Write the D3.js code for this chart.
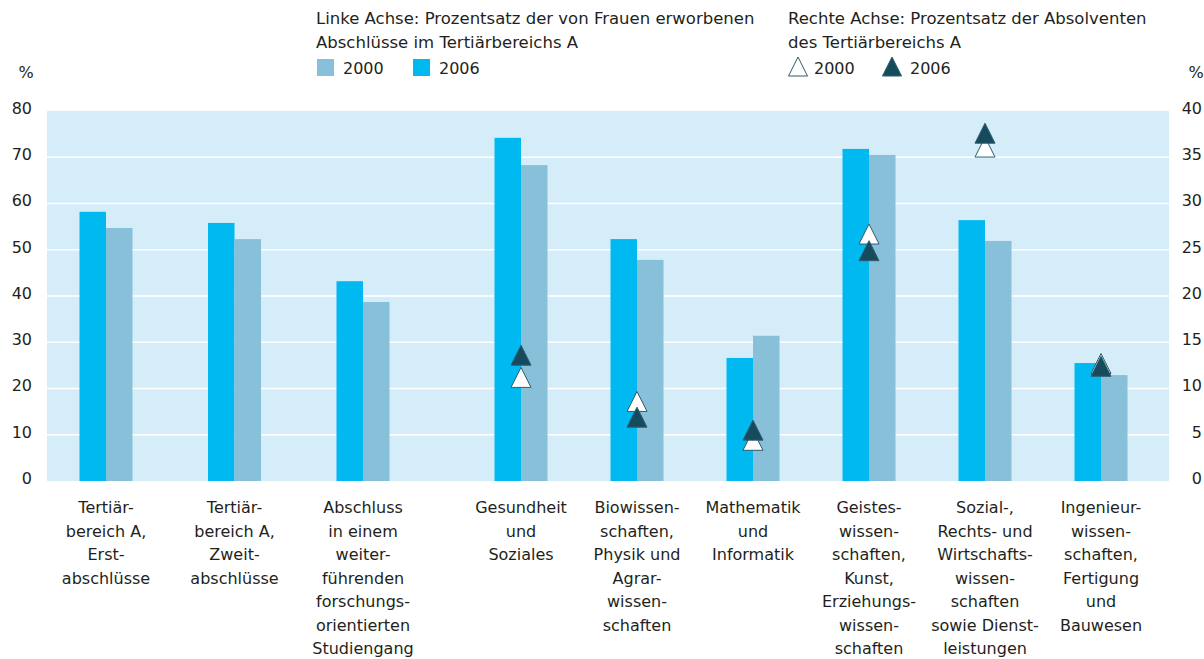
<!DOCTYPE html>
<html lang="de">
<head>
<meta charset="utf-8">
<title>Frauenanteil an Abschlüssen im Tertiärbereich A</title>
<script src="https://cdnjs.cloudflare.com/ajax/libs/d3/7.8.5/d3.min.js"></script>
<style>
  body { margin: 0; background: #fff; }
  svg text { font-family: "DejaVu Sans", sans-serif; font-size: 16px; fill: #231f20; }
  svg text.ttl { font-size: 16.5px; }
</style>
</head>
<body>
<svg width="1204" height="659"></svg>
<script>
// categories (label lines)
var categories = [
  ["Tertiär-", "bereich A,", "Erst-", "abschlüsse"],
  ["Tertiär-", "bereich A,", "Zweit-", "abschlüsse"],
  ["Abschluss", "in einem", "weiter-", "führenden", "forschungs-", "orientierten", "Studiengang"],
  ["Gesundheit", "und", "Soziales"],
  ["Biowissen-", "schaften,", "Physik und", "Agrar-", "wissen-", "schaften"],
  ["Mathematik", "und", "Informatik"],
  ["Geistes-", "wissen-", "schaften,", "Kunst,", "Erziehungs-", "wissen-", "schaften"],
  ["Sozial-,", "Rechts- und", "Wirtschafts-", "wissen-", "schaften", "sowie Dienst-", "leistungen"],
  ["Ingenieur-", "wissen-", "schaften,", "Fertigung", "und", "Bauwesen"]
];

// left axis: share of degrees earned by women (%)
var women2006 = [58.2, 55.8, 43.2, 74.2, 52.3, 26.6, 71.8, 56.4, 25.5];
var women2000 = [54.7, 52.3, 38.7, 68.3, 47.8, 31.4, 70.5, 51.9, 22.9];

// right axis: share of tertiary-type A graduates (%)
var grads2000 = [null, null, null, 11.2, 8.6, 4.4, 26.7, 36.1, 12.7];
var grads2006 = [null, null, null, 13.6, 6.9, 5.5, 24.9, 37.6, 12.4];

var leftTicks = [0, 10, 20, 30, 40, 50, 60, 70, 80];
var rightTicks = [0, 5, 10, 15, 20, 25, 30, 35, 40];

var colCyan = "#00b9f1", colLight = "#88bfd9", colBg = "#d5ecf9",
    colDark = "#164b5d", colEdge = "#2e5c6d";

var svg = d3.select("svg");
var plot = {left: 47, right: 1169, top: 111, bottom: 481};

// groups 1-3 sit a bit wider apart than 4-9
var x = d3.scaleLinear().domain([0, 2, 3, 8]).range([106, 363, 521, 1101]);
var barW = 26.5;
var yL = d3.scaleLinear().domain([0, 80]).range([plot.bottom, plot.top]);
var yR = d3.scaleLinear().domain([0, 40]).range([plot.bottom, plot.top]);

svg.append("rect")
  .attr("x", plot.left).attr("y", plot.top)
  .attr("width", plot.right - plot.left).attr("height", plot.bottom - plot.top)
  .attr("fill", colBg);

svg.append("g").selectAll("line")
  .data(leftTicks.filter(function(d) { return d > 0 && d < 80; }))
  .enter().append("line")
    .attr("x1", plot.left).attr("x2", plot.right)
    .attr("y1", function(d) { return yL(d); })
    .attr("y2", function(d) { return yL(d); })
    .attr("stroke", "#fff").attr("stroke-width", 1.5);

// axes
var axL = svg.append("g")
  .attr("transform", "translate(" + plot.left + ",0)")
  .call(d3.axisLeft(yL).tickValues(leftTicks).tickSize(0).tickPadding(15));
var axR = svg.append("g")
  .attr("transform", "translate(" + plot.right + ",0)")
  .call(d3.axisRight(yR).tickValues(rightTicks).tickSize(0).tickPadding(33));
[axL, axR].forEach(function(a) {
  a.select(".domain").remove();
  a.selectAll("text").attr("font-family", null).attr("font-size", null)
    .attr("dy", "0.15em");
});
axR.selectAll("text").attr("text-anchor", "end");

svg.append("text").attr("x", 26).attr("y", 78).attr("text-anchor", "middle").text("%");
svg.append("text").attr("x", 1196).attr("y", 78).attr("text-anchor", "middle").text("%");

// bars
var idx = d3.range(categories.length);
svg.append("g").selectAll("rect")
  .data(idx).enter().append("rect")
    .attr("x", function(i) { return x(i) - barW; })
    .attr("y", function(i) { return yL(women2006[i]); })
    .attr("width", barW)
    .attr("height", function(i) { return yL(0) - yL(women2006[i]); })
    .attr("fill", colCyan);
svg.append("g").selectAll("rect")
  .data(idx).enter().append("rect")
    .attr("x", function(i) { return x(i); })
    .attr("y", function(i) { return yL(women2000[i]); })
    .attr("width", barW)
    .attr("height", function(i) { return yL(0) - yL(women2000[i]); })
    .attr("fill", colLight);

// triangles
function tri(cx, cy, w, h) {
  return "M" + cx + "," + (cy - h / 2) + "L" + (cx + w / 2) + "," + (cy + h / 2) +
         "L" + (cx - w / 2) + "," + (cy + h / 2) + "Z";
}
function drawTriangles(vals, fill) {
  svg.append("g").selectAll("path")
    .data(idx.filter(function(i) { return vals[i] != null; }))
    .enter().append("path")
      .attr("d", function(i) { return tri(x(i), yR(vals[i]), 20, 20); })
      .attr("fill", fill).attr("stroke", colEdge).attr("stroke-width", 1);
}
drawTriangles(grads2000, "#fff");
drawTriangles(grads2006, colDark);

// category labels
var lab = svg.append("g").selectAll("text")
  .data(idx).enter().append("text")
    .attr("text-anchor", "middle")
    .attr("transform", function(i) { return "translate(" + x(i) + ",513)"; });
lab.selectAll("tspan")
  .data(function(i) { return categories[i]; })
  .enter().append("tspan")
    .attr("x", 0)
    .attr("y", function(d, k) { return k * 23.5; })
    .text(function(d) { return d; });

// legend
var leg = svg.append("g");
leg.append("text").attr("class", "ttl").attr("x", 316).attr("y", 24).text("Linke Achse: Prozentsatz der von Frauen erworbenen");
leg.append("text").attr("class", "ttl").attr("x", 316).attr("y", 48).text("Abschlüsse im Tertiärbereichs A");
leg.append("rect").attr("x", 317).attr("y", 59).attr("width", 17).attr("height", 17).attr("fill", colLight);
leg.append("text").attr("x", 343).attr("y", 74).text("2000");
leg.append("rect").attr("x", 413).attr("y", 59).attr("width", 17).attr("height", 17).attr("fill", colCyan);
leg.append("text").attr("x", 439).attr("y", 74).text("2006");

leg.append("text").attr("class", "ttl").attr("x", 788).attr("y", 24).text("Rechte Achse: Prozentsatz der Absolventen");
leg.append("text").attr("class", "ttl").attr("x", 788).attr("y", 48).text("des Tertiärbereichs A");
leg.append("path").attr("d", tri(798, 66.5, 19, 19)).attr("fill", "#fff").attr("stroke", colEdge);
leg.append("text").attr("x", 814).attr("y", 74).text("2000");
leg.append("path").attr("d", tri(892, 66.5, 19, 19)).attr("fill", colDark).attr("stroke", colEdge);
leg.append("text").attr("x", 910).attr("y", 74).text("2006");
</script>
</body>
</html>
